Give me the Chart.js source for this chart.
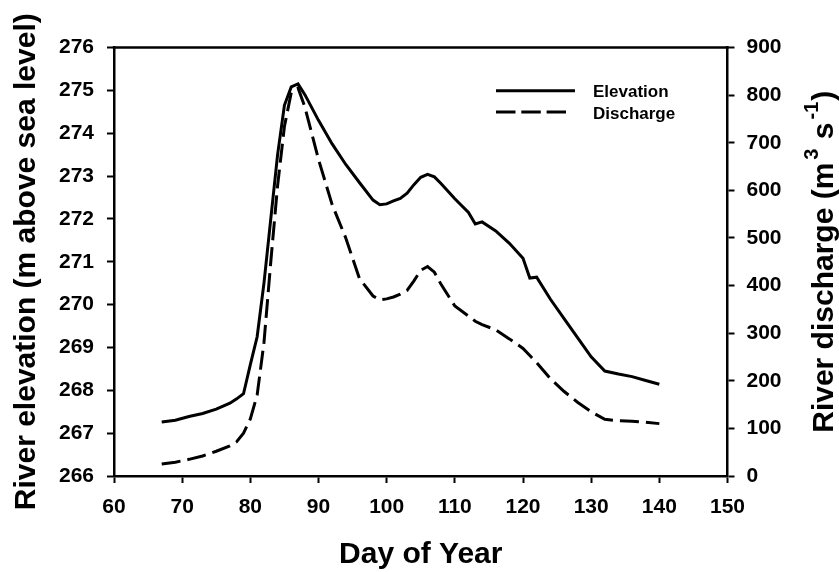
<!DOCTYPE html>
<html>
<head>
<meta charset="utf-8">
<script src="https://cdn.jsdelivr.net/npm/chart.js@4.4.1/dist/chart.umd.min.js"></script>
<style>
  html, body { margin: 0; padding: 0; background: #fff; }
  canvas { display: block; }
</style>
</head>
<body>
<canvas id="c" width="839" height="572"></canvas>
<script>
// ---- data ----
const days = [67, 69, 71, 73, 75, 77, 78, 79, 80, 81, 82, 83, 84, 85, 86, 87, 88, 90, 92, 94, 96, 98, 99, 100, 101, 102, 103, 104, 105, 106, 107, 108, 110, 112, 113, 114, 116, 118, 120, 121, 122, 124, 126, 128, 130, 132, 134, 136, 138, 140];
const elevation = [267.26, 267.30, 267.39, 267.46, 267.56, 267.70, 267.80, 267.92, 268.60, 269.25, 270.50, 272.00, 273.50, 274.65, 275.08, 275.15, 274.90, 274.30, 273.75, 273.27, 272.85, 272.44, 272.33, 272.35, 272.42, 272.48, 272.60, 272.80, 272.97, 273.04, 272.98, 272.82, 272.47, 272.15, 271.88, 271.93, 271.72, 271.43, 271.08, 270.62, 270.64, 270.13, 269.68, 269.23, 268.78, 268.45, 268.38, 268.32, 268.23, 268.14];
const discharge = [25, 29, 35, 42, 52, 63, 72, 90, 120, 170, 280, 450, 610, 734, 805, 815, 775, 665, 570, 500, 415, 378, 370, 372, 376, 382, 390, 410, 432, 440, 428, 402, 357, 336, 325, 318, 307, 288, 268, 253, 238, 205, 178, 155, 135, 119, 116, 115, 113, 110];
const seriesNames = ['Elevation', 'Discharge'];
const xTitle = 'Day of Year';
const yTitle = 'River elevation (m above sea level)';
const y1TitleParts = [
  { t: 'River discharge (m', sup: false },
  { t: '3', sup: true },
  { t: ' s', sup: false },
  { t: '-1', sup: true },
  { t: ')', sup: false }
];
const xRange = [60, 150, 10];
const yRange = [266, 276, 1];
const y1Range = [0, 900, 100];

const FONT = "'Liberation Sans', Arial, Helvetica, sans-serif";
const DASH = [19, 7];

Chart.defaults.font.family = FONT;
Chart.defaults.color = '#000';

const overlay = {
  id: 'overlay',
  afterDraw(chart) {
    const ctx = chart.ctx;
    const a = chart.chartArea;
    ctx.save();
    // top frame line
    ctx.strokeStyle = '#000';
    ctx.lineWidth = 2.5;
    ctx.beginPath();
    ctx.moveTo(a.left - 1.25, a.top);
    ctx.lineTo(a.right + 1.25, a.top);
    ctx.stroke();

    // x title
    ctx.fillStyle = '#000';
    ctx.font = 'bold 30px ' + FONT;
    ctx.textAlign = 'center';
    ctx.textBaseline = 'middle';
    ctx.fillText(xTitle, (a.left + a.right) / 2, 555);

    // left y title
    const cy = (a.top + a.bottom) / 2;
    ctx.save();
    ctx.translate(34.5, cy);
    ctx.rotate(-Math.PI / 2);
    ctx.textBaseline = 'alphabetic';
    ctx.textAlign = 'center';
    ctx.fillText(yTitle, 0, 0);
    ctx.restore();

    // right y title with superscripts
    ctx.save();
    ctx.translate(833, cy);
    ctx.rotate(-Math.PI / 2);
    ctx.textBaseline = 'alphabetic';
    ctx.textAlign = 'left';
    const big = 'bold 30px ' + FONT, small = 'bold 20px ' + FONT;
    let total = 0;
    const widths = y1TitleParts.map(p => {
      ctx.font = p.sup ? small : big;
      const w = ctx.measureText(p.t).width + (p.sup ? 4 : 0);
      total += w;
      return w;
    });
    let x = -total / 2;
    y1TitleParts.forEach((p, i) => {
      ctx.font = p.sup ? small : big;
      ctx.fillText(p.t, x + (p.sup ? 3 : 0), p.sup ? -15 : 0);
      x += widths[i];
    });
    ctx.restore();

    // legend
    ctx.lineWidth = 3;
    ctx.strokeStyle = '#000';
    ctx.beginPath();
    ctx.moveTo(496, 90.7);
    ctx.lineTo(575, 90.7);
    ctx.stroke();
    ctx.setLineDash([19.5, 5.8]);
    ctx.beginPath();
    ctx.moveTo(496, 112);
    ctx.lineTo(566, 112);
    ctx.stroke();
    ctx.setLineDash([]);
    ctx.font = 'bold 17px ' + FONT;
    ctx.textAlign = 'left';
    ctx.textBaseline = 'alphabetic';
    ctx.fillText(seriesNames[0], 593, 97);
    ctx.fillText(seriesNames[1], 593, 118.5);
    ctx.restore();
  }
};

function axisCommon(pos, range, pad) {
  return {
    type: 'linear',
    position: pos,
    min: range[0],
    max: range[1],
    ticks: { stepSize: range[2], color: '#000', font: { size: 21, weight: 'bold' }, padding: pad },
    grid: { drawOnChartArea: false, drawTicks: true, tickLength: 7, tickColor: '#000', tickWidth: 2, color: '#000' },
    border: { display: true, color: '#000', width: 2.5 }
  };
}

const xs = axisCommon('bottom', xRange, 12);
xs.afterFit = s => { s.height = 96; };
const ys = axisCommon('left', yRange, 13);
ys.afterFit = s => { s.width = 114; };
const y1s = axisCommon('right', y1Range, 12);
y1s.afterFit = s => { s.width = 111.5; };

new Chart(document.getElementById('c'), {
  type: 'line',
  data: {
    datasets: [
      {
        label: seriesNames[0],
        data: days.map((d, i) => ({ x: d, y: elevation[i] })),
        yAxisID: 'y',
        borderColor: '#000',
        borderWidth: 3,
        pointRadius: 0,
        tension: 0,
        fill: false
      },
      {
        label: seriesNames[1],
        data: days.map((d, i) => ({ x: d, y: discharge[i] })),
        yAxisID: 'y1',
        borderColor: '#000',
        borderWidth: 3,
        borderDash: DASH,
        pointRadius: 0,
        tension: 0,
        fill: false
      }
    ]
  },
  options: {
    responsive: false,
    animation: false,
    devicePixelRatio: 1,
    layout: { padding: { top: 47.5, left: 0, right: 0, bottom: 0 } },
    plugins: { legend: { display: false }, tooltip: { enabled: false } },
    scales: { x: xs, y: ys, y1: y1s }
  },
  plugins: [overlay]
});
</script>
</body>
</html>
